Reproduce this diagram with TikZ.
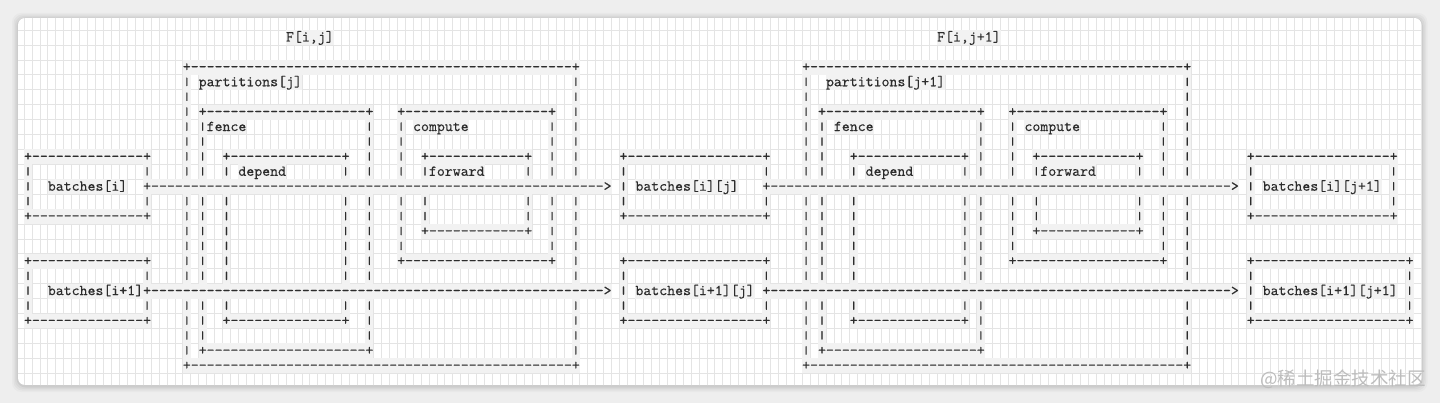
\documentclass[tikz,border=0pt]{standalone}
\usepackage{fontspec}
\usepackage{graphicx}
\setmonofont{lmmono10-regular.otf}[FakeBold=0.18]
\newfontfamily\cjkfont{Noto Sans CJK SC}
\definecolor{txt}{HTML}{2C2C2C}
\definecolor{halo}{HTML}{F2F2F2}
\definecolor{gridc}{HTML}{E4E4E4}
\definecolor{outerbg}{HTML}{EEEEEE}
\definecolor{wm}{HTML}{BDBDBD}
\ExplSyntaxOn
\cs_new:Npn \asciirep #1#2 { \prg_replicate:nn {#1} {#2} }
\ExplSyntaxOff
\newcommand\vbarchar{\raisebox{1.1pt}{\scalebox{1}[0.72]{|}}}
\tikzset{
  ch/.style={font=\ttfamily\fontsize{15.124pt}{14.92pt}\selectfont, text=txt,
    fill=halo, inner sep=0pt, outer sep=0pt, text height=11.46pt, text depth=3.46pt, anchor=west},
  gridline/.style={draw=gridc, line width=0.75pt}
}
% text run: name, column, row, text
\newcommand\atext[4]{\node[ch] (#1) at ({24.03+7.94*(#2)},{37.5+14.92*(#3)}) {#4};}
% one side bar: name, column, row, l/r
\newcommand\aside[4]{%
  \pgfmathtruncatemacro\dropit{and(or(#3==10,#3==17),or(and(#2>=15,#2<=73),and(#2>=93,#2<=152)))}%
  \ifnum\dropit=0 \node[ch] (#1-#4#3) at ({24.03+7.94*(#2)},{37.5+14.92*(#3)}) {\vbarchar};\fi}
% ascii box: name, c1, r1, c2, r2
\newcommand\abox[5]{%
  \pgfmathtruncatemacro\bw{#4-#2-1}%
  \node[ch] (#1-t) at ({24.03+7.94*(#2)},{37.5+14.92*(#3)}) {+\asciirep{\bw}{-}+};
  \node[ch] (#1-b) at ({24.03+7.94*(#2)},{37.5+14.92*(#5)}) {+\asciirep{\bw}{-}+};
  \foreach \r in {#3,...,#5}{%
    \ifnum\r>#3 \ifnum\r<#5 \aside{#1}{#2}{\r}{l}\aside{#1}{#4}{\r}{r}\fi\fi}%
}
\begin{document}
\begin{tikzpicture}[x=1pt,y=-1pt]
\useasboundingbox (0,0) rectangle (1440,403);
\fill[outerbg] (0,0) rectangle (1440,403);
% card shadow
\foreach \e/\o in {6/0.025,4.5/0.03,3/0.035,1.5/0.05}
  \fill[black, opacity=\o, rounded corners=9pt] (18-\e,18-\e+1) rectangle (1421.5+\e,385+\e+1);
% card with grid
\begin{scope}
  \clip[rounded corners=7pt] (18,18) rectangle (1421.5,385);
  \fill[white] (18,18) rectangle (1421.5,385);
  \foreach \k in {0,...,178} \draw[gridline] ({24.03+7.94*(\k-1)},15) -- ++(0,375);
  \foreach \j in {0,...,26} \draw[gridline] (15,{30.04+14.92*(\j-1)}) -- ++(1410,0);
\end{scope}

% boxes, block F[i,j]
\abox{pj}{20}{2}{69}{22}
\abox{fj}{22}{5}{43}{21}
\abox{dj}{25}{8}{40}{19}
\abox{cj}{47}{5}{66}{15}
\abox{wj}{50}{8}{63}{13}
% batches
\abox{bi}{0}{8}{15}{12}
\abox{bii}{0}{15}{15}{19}
\abox{bij}{75}{8}{93}{12}
\abox{biij}{75}{15}{93}{19}
% boxes, block F[i,j+1]
\abox{pk}{98}{2}{146}{22}
\abox{fk}{100}{5}{120}{21}
\abox{dk}{104}{8}{118}{19}
\abox{ck}{124}{5}{143}{15}
\abox{wk}{127}{8}{140}{13}
\abox{bik}{154}{8}{172}{12}
\abox{biik}{154}{15}{174}{19}

% arrows
\atext{a1}{15}{10}{+\asciirep{57}{-}>}
\atext{a2}{15}{17}{+\asciirep{57}{-}>}
\atext{a3}{93}{10}{+\asciirep{58}{-}>}
\atext{a4}{93}{17}{+\asciirep{58}{-}>}

% labels
\atext{Fj}{33}{0}{F[i,j]}
\atext{Fk}{115}{0}{F[i,j+1]}
\atext{Lpj}{22}{3}{partitions[j]}
\atext{Lpk}{101}{3}{partitions[j+1]}
\atext{Lfj}{23}{6}{fence}
\atext{Lcj}{49}{6}{compute}
\atext{Lfk}{102}{6}{fence}
\atext{Lck}{126}{6}{compute}
\atext{Ldj}{27}{9}{depend}
\atext{Lwj}{51}{9}{forward}
\atext{Ldk}{106}{9}{depend}
\atext{Lwk}{128}{9}{forward}
\atext{Lbi}{3}{10}{batches[i]}
\atext{Lbij}{77}{10}{batches[i][j]}
\atext{Lbik}{156}{10}{batches[i][j+1]}
\atext{Lbii}{3}{17}{batches[i+1]}
\atext{Lbiij}{77}{17}{batches[i+1][j]}
\atext{Lbiik}{156}{17}{batches[i+1][j+1]}

% watermark
\node[font=\cjkfont\fontsize{18.5pt}{20pt}\selectfont, text=wm, anchor=east, inner sep=0pt] (wmark) at (1426,379) {@稀土掘金技术社区};
\end{tikzpicture}
\end{document}
